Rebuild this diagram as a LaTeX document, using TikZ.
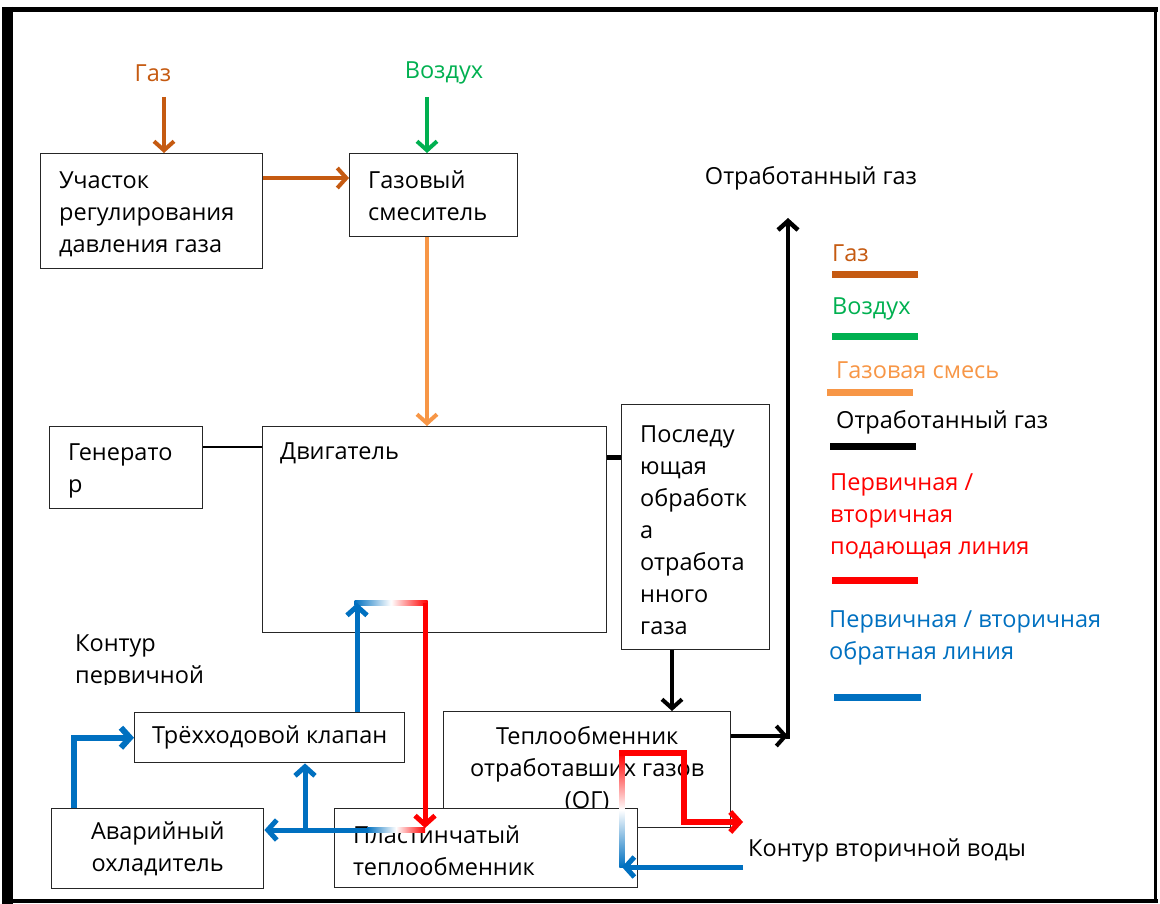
\documentclass[tikz,border=0pt]{standalone}
\usepackage{fontspec}
\setmainfont{Open Sans}
\usetikzlibrary{arrows.meta,positioning}
\definecolor{gasc}{RGB}{197,90,17}
\definecolor{airc}{RGB}{0,176,80}
\definecolor{mixc}{RGB}{247,150,70}
\definecolor{redc}{RGB}{255,0,0}
\definecolor{bluec}{RGB}{0,112,192}
\begin{document}
\begin{tikzpicture}[x=1pt,y=-1pt,>={Straight Barb[length=9pt,width=20pt]},font=\fontsize{23.5}{32}\selectfont]
    \tikzstyle{box}=[draw=black!85,line width=1.4pt,fill=white,anchor=north west,inner sep=0pt,align=center]
    \tikzstyle{txt}=[anchor=west,align=left,inner sep=0pt]
    \tikzstyle{flow}=[line width=4pt,->]
    \tikzstyle{water}=[line width=5pt,->]
    \tikzstyle{legline}=[line width=7pt]
    \useasboundingbox (0,0) rectangle (1160,904);

      % frame
      \draw[line width=11pt] (7.5,7) -- (7.5,904);
      \draw[line width=5pt] (2,9.5) -- (1158,9.5);
      \draw[line width=3.5pt] (1155.5,7) -- (1155.5,903);
      \draw[line width=4pt] (2,901) -- (1158,901);

      \node (prd) at (40, 153) [box,minimum width=222pt,minimum height=115pt] {};
      \node (prdt) at ([xshift=19pt,yshift=-3pt]prd.west) [txt] {Участок\\регулирования\\давления газа};
      \node (mix) at (349, 153) [box,minimum width=168pt,minimum height=83pt] {};
      \node (mixt) at ([xshift=19pt,yshift=-1pt]mix.west) [txt] {Газовый\\смеситель};
      \node (gen) at (49, 426) [box,minimum width=153pt,minimum height=82pt] {};
      \node (gent) at ([xshift=19pt,yshift=-3pt]gen.west) [txt] {Генерато\\р};
      \node (eng) at (262, 426) [box,minimum width=344pt,minimum height=206pt] {};
      \node (engt) at (280, 453) [txt] {Двигатель};
      \node (post) at (621, 404) [box,minimum width=148pt,minimum height=245pt] {};
      \node (postt) at ([xshift=19pt,yshift=-3pt]post.west) [txt] {Последу\\ющая\\обработк\\а\\отработа\\нного\\газа};
      \node (og) at (443, 711) [box,minimum width=287pt,minimum height=116pt] {Теплообменник\\отработавших газов\\(ОГ)};
      \node (tpv) at (134, 712) [box,minimum width=270pt,minimum height=50pt] {Трёхходовой клапан};
      \node (av) at (51, 808) [box,minimum width=212pt,minimum height=80pt] {Аварийный\\охладитель};
      \node (pl) at (334, 808) [box,minimum width=303pt,minimum height=79pt] {};
      \node (plt) at ([xshift=19pt,yshift=-3pt]pl.west) [txt] {Пластинчатый\\теплообменник};

      \node (gasl) at (153, 73) [text=gasc] {Газ};
      \node (airl) at (444, 73) [text=airc] {Воздух};
      \node (exhl) at (811, 178) {Отработанный газ};
      \node (secl) at (748, 850) [txt] {Контур вторичной воды};
      \begin{scope}
        \clip (20,600) rectangle (300,684);
        \node (pril) at (75, 662) [txt] {Контур\\первичной};
      \end{scope}

      % legend
      \node (lg1) at (832, 253) [txt,text=gasc] {Газ};
      \node (lg2) at (832, 309) [txt,text=airc] {Воздух};
      \node (lg3) at (836, 370) [txt,text=mixc] {Газовая смесь};
      \node (lg4) at (836, 422) [txt] {Отработанный газ};
      \node (lg5) at (830, 516) [txt,text=redc] {Первичная /\\вторичная\\подающая линия};
      \node (lg6) at (829, 638) [txt,text=bluec] {Первичная / вторичная\\обратная линия};
      \draw[legline,gasc] (832,275) -- (918,275);
      \draw[legline,airc] (832,336) -- (918,336);
      \draw[legline,mixc] (827,392) -- (913,392);
      \draw[legline,black] (830,446) -- (916,446);
      \draw[legline,redc] (832,580) -- (918,580);
      \draw[legline,bluec] (834,697) -- (921,697);

      % gas, air, mixture
      \coordinate (gasin) at (164, 97);
      \coordinate (airin) at (427, 97);
      \path[draw,flow,gasc] (gasin) -- (gasin |- prd.north);
      \path[draw,flow,airc] (airin) -- (airin |- mix.north);
      \path[draw,flow,gasc] (prd.east |- 0,178) -- (mix.west |- 0,178);
      \path[draw,flow,mixc] (mix.south -| airin) -- (eng.north -| airin);

      % exhaust
      \draw[line width=1.4pt] (gen.east |- 0,447) -- (eng.west |- 0,447);
      \draw[line width=5pt] (eng.east |- 0,457) -- (post.west |- 0,457);
      \coordinate (exh) at (788, 736);
      \coordinate (exhtop) at (788, 218);
      \path[draw,flow] (post.south -| 672,0) -- (og.north -| 672,0);
      \path[draw,flow] (og.east |- exh) -- (exh);
      \path[draw,line width=4.5pt,->] ([yshift=-3pt]exh) -- (exhtop);

      % primary circuit
      \coordinate (pa) at (357, 603);
      \coordinate (pb) at (425, 603);
      \coordinate (pc) at (425, 828);
      \coordinate (pd) at (425, 830);
      \coordinate (pe) at (367, 830);
      \coordinate (pj) at (305, 830);
      \shade[left color=bluec,right color=redc,middle color=white] ([xshift=-2.5pt,yshift=2.5pt]pa) rectangle ([xshift=2.5pt,yshift=-2.5pt]pb);
      \path[draw,water,bluec] (tpv.north -| pa) -- (pa);
      \path[draw,water,redc] (pb) -- (pc);
      \shade[left color=bluec,right color=redc,middle color=white] ([yshift=2.5pt]pe) rectangle ([yshift=-2.5pt]pd);
      \path[draw,water,bluec] ([xshift=1pt]pe) -- (av.east |- pe);
      \path[draw,water,bluec] (pj) -- (pj |- tpv.south);
      \path[draw,line width=6pt,->,bluec] (av.north -| 74,0) |- (tpv.west);

      % secondary circuit
      \coordinate (sa) at (622, 753);
      \coordinate (sb) at (684, 753);
      \coordinate (sc) at (684, 822);
      \coordinate (sd) at (743, 822);
      \coordinate (se) at (622, 867);
      \coordinate (sf) at (743, 867);
      \shade[top color=redc,bottom color=bluec,middle color=white] ([xshift=-2.75pt]sa) rectangle ([xshift=2.75pt]se);
      \path[draw,line width=5.5pt,->,redc] ([xshift=-2.75pt]sa) -- (sb) -- (sc) -- (sd);
      \path[draw,water,bluec] (sf) -- (se);
  \end{tikzpicture}
\end{document}
